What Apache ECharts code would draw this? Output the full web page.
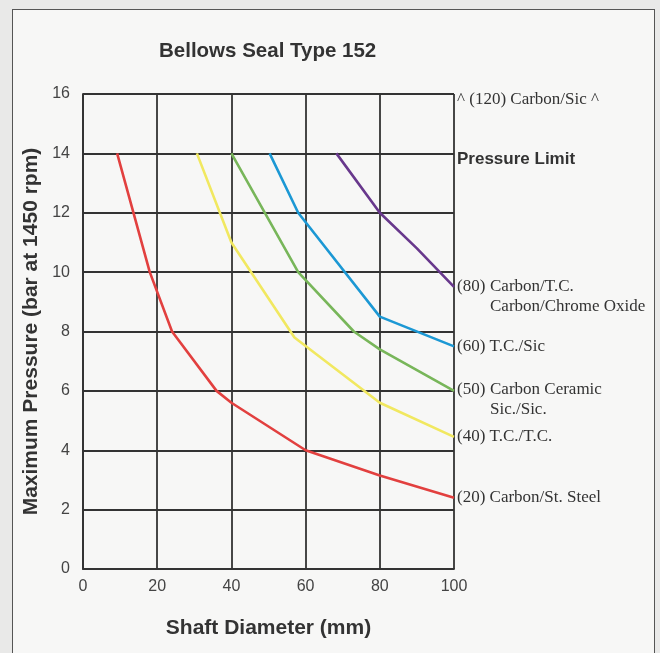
<!DOCTYPE html>
<html>
<head>
<meta charset="utf-8">
<script src="https://cdn.jsdelivr.net/npm/echarts@6/dist/echarts.min.js"></script>
<style>
  html, body { margin: 0; padding: 0; background: #e9e9e8; }
  #frame { position: absolute; left: 12px; top: 9px; width: 643px; height: 660px; border: 1.5px solid #555; background: #f7f7f6; box-sizing: border-box; }
  #chart { position: absolute; left: 0; top: 0; width: 660px; height: 653px; }
</style>
</head>
<body>
<div id="frame"></div>
<div id="chart"></div>
<script>
// ---- data ----
const title = 'Bellows Seal Type 152';
const xName = 'Shaft Diameter (mm)';
const yName = 'Maximum Pressure (bar at 1450 rpm)';

const red20    = [[9.2, 14], [18, 10], [24, 8], [36, 6], [40, 5.6], [60, 4], [80, 3.15], [100, 2.4]];
const yellow40 = [[30.7, 14], [40, 11], [57, 7.8], [80, 5.6], [100, 4.45]];
const green50  = [[40, 14], [58, 10], [73, 8], [80, 7.4], [100, 6]];
const blue60   = [[50.3, 14], [58, 12], [80, 8.5], [100, 7.5]];
const purple80 = [[68.3, 14], [80, 12], [90, 10.8], [100, 9.5]];

const seriesNames  = ['(20) Carbon/St. Steel', '(40) T.C./T.C.', '(50) Carbon Ceramic', '(60) T.C./Sic', '(80) Carbon/T.C.'];
const seriesLabels = [
  '(20) Carbon/St. Steel',
  '(40) T.C./T.C.',
  '{p|(50)}Carbon Ceramic\n{p|}Sic./Sic.',
  '(60) T.C./Sic',
  '{p|(80)}Carbon/T.C.\n{p|}Carbon/Chrome Oxide'
];
const seriesColors = ['#e2403f', '#f1e860', '#78b65a', '#1c98d4', '#68388c'];
const seriesData   = [red20, yellow40, green50, blue60, purple80];
const labelOffsets = [[0, 0], [0, 0], [0, 9], [0, 0], [0, 10]];

const topNote = '^ (120) Carbon/Sic ^';
const limitNote = 'Pressure Limit';

const chart = echarts.init(document.getElementById('chart'), null, { renderer: 'canvas' });

const serif = '"Liberation Serif", "DejaVu Serif", serif';
const sans = '"Liberation Sans", Arial, sans-serif';

const series = seriesData.map((d, i) => ({
  name: seriesNames[i],
  type: 'line',
  data: d,
  symbol: 'none',
  lineStyle: { color: seriesColors[i], width: 2.6 },
  itemStyle: { color: seriesColors[i] },
  z: 5,
  endLabel: {
    show: true,
    formatter: seriesLabels[i],
    distance: 3,
    offset: labelOffsets[i],
    fontFamily: serif,
    fontSize: 17,
    color: '#333',
    lineHeight: 20,
    rich: { p: { width: 33, fontFamily: serif, fontSize: 17, color: '#333', lineHeight: 20 } }
  }
}));

chart.setOption({
  animation: false,
  backgroundColor: 'transparent',
  title: {
    text: title,
    left: 154,
    top: 36,
    textStyle: { fontFamily: sans, fontSize: 20.5, fontWeight: 'bold', color: '#333' }
  },
  grid: { left: 83, top: 94, right: 206, bottom: 84, show: false },
  xAxis: {
    type: 'value', min: 0, max: 100, interval: 20,
    name: xName, nameLocation: 'middle', nameGap: 49,
    nameTextStyle: { fontFamily: sans, fontSize: 21, fontWeight: 'bold', color: '#333' },
    axisLine: { show: true, lineStyle: { color: '#333', width: 1.8 } },
    axisTick: { show: false },
    axisLabel: { fontFamily: sans, fontSize: 16, color: '#444', margin: 10 },
    splitLine: { show: true, lineStyle: { color: '#333', width: 1.8 } }
  },
  yAxis: {
    type: 'value', min: 0, max: 16, interval: 2,
    name: yName, nameLocation: 'middle', nameGap: 40,
    nameTextStyle: { fontFamily: sans, fontSize: 21, fontWeight: 'bold', color: '#333' },
    axisLine: { show: true, lineStyle: { color: '#333', width: 1.8 } },
    axisTick: { show: false },
    axisLabel: { fontFamily: sans, fontSize: 16, color: '#444', margin: 13 },
    splitLine: { show: true, lineStyle: { color: '#333', width: 1.8 } }
  },
  graphic: [
    { type: 'text', left: 457, top: 91, style: { text: topNote, font: '17px ' + serif, fill: '#333' } },
    { type: 'text', left: 457, top: 151, style: { text: limitNote, font: 'bold 17px ' + sans, fill: '#333' } }
  ],
  series: series
});
</script>
</body>
</html>
